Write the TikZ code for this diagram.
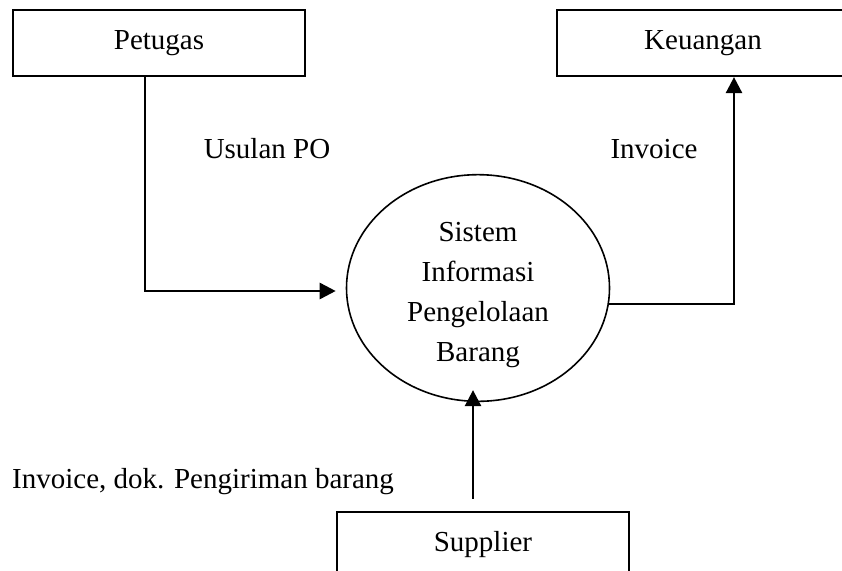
\documentclass[tikz,border=0pt]{standalone}
\usepackage{fontspec}
\setmainfont{Liberation Serif}
\usepackage{tikz}
\usetikzlibrary{positioning}
\usetikzlibrary{shapes.geometric}
\usetikzlibrary{calc}
\usetikzlibrary{arrows.meta}

\tikzset{
	entity/.style={draw, line width=2.2pt, minimum width=292pt, minimum height=66pt, inner sep=0pt},
	process/.style={draw, ellipse, line width=1.6pt, minimum width=263pt, minimum height=226pt, inner sep=0pt, align=center},
	flow/.style={line width=2.6pt, -{Triangle[length=16pt,width=16pt]}},
	flowlabel/.style={inner sep=0pt}
}

\begin{document}
\begin{tikzpicture}[x=1pt, y=-1pt, font=\fontsize{29}{40}\selectfont]
	\clip (0,0) rectangle (842,570);
	% Entities
	\node [entity] at (159,43) (Petugas) {Petugas};
	\node [entity] at (703,43) (Keuangan) {Keuangan};
	\node [entity] at (483,545) (Supplier) {Supplier};
	
	% Process
	\node [process] at (478,288) (SIPB) {\rule{0pt}{34pt}Sistem\\Informasi\\Pengelolaan\\Barang};
	
	% Labels
	\node [flowlabel, anchor=base] at (267,158) (lUsulan) {Usulan PO};
	\node [flowlabel, anchor=base] at (654,158) (lInvoice) {Invoice};
	\node [flowlabel, anchor=base west] at (12,488) (lSupplier) {Invoice, dok. Pengiriman barang};
	
	% Flows
	\draw [flow] ([xshift=-14pt]Petugas.south) |- ([xshift=-10pt,yshift=-3pt]SIPB.west);
	\draw [flow] (SIPB.-7) -| ([xshift=31pt]Keuangan.south);
	\draw [flow] ([xshift=-10pt,yshift=12pt]Supplier.north) -- ([xshift=-10pt,yshift=12pt]Supplier.north |- SIPB.south);
	
\end{tikzpicture}
\end{document}
